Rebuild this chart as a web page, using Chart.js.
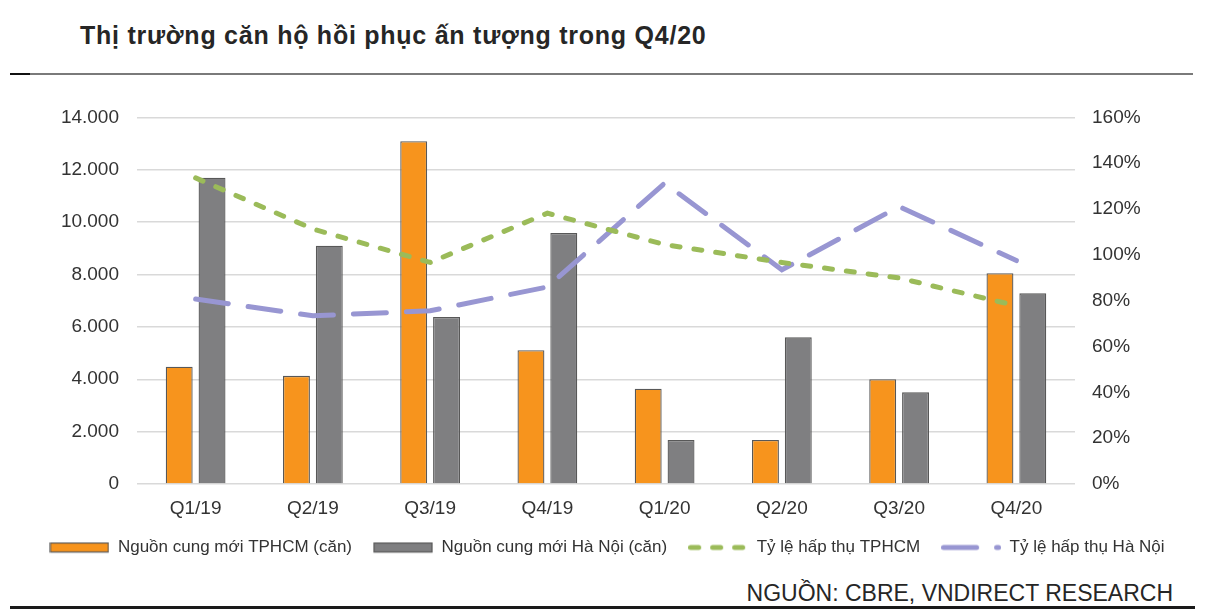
<!DOCTYPE html>
<html>
<head>
<meta charset="utf-8">
<script src="https://cdn.jsdelivr.net/npm/chart.js@4"></script>
<style>
  body { margin: 0; background: #fff; }
  #page { position: relative; width: 1214px; height: 616px; overflow: hidden; font-family: "Liberation Sans", Arial, sans-serif; }
  #title { position: absolute; left: 80px; top: 23px; font-size: 25px; line-height: 25px; font-weight: bold; color: #262626; letter-spacing: 0.75px; white-space: nowrap; }
  #ruleTop { position: absolute; left: 10px; top: 73px; width: 1183px; height: 2px; background: #7a7a7a; }
  #ruleTopMark { position: absolute; left: 10px; top: 73px; width: 20px; height: 2px; background: #111; }
  #source { position: absolute; right: 41px; top: 582px; font-size: 23px; line-height: 23px; color: #262626; white-space: nowrap; }
  #ruleBottom { position: absolute; left: 10px; top: 606px; width: 1185px; height: 3px; background: #1a1a1a; }
  #wrap { position: absolute; left: 0; top: 88px; width: 1214px; height: 478px; }
  canvas { display: block; }
</style>
</head>
<body>
<div id="page">
  <div id="title">Thị trường căn hộ hồi phục ấn tượng trong Q4/20</div>
  <div id="ruleTop"></div>
  <div id="ruleTopMark"></div>
  <div id="wrap"><canvas id="chart" width="1214" height="478"></canvas></div>
  <div id="source">NGUỒN: CBRE, VNDIRECT RESEARCH</div>
  <div id="ruleBottom"></div>
</div>
<script>
// DATA
let categories = ["Q1/19", "Q2/19", "Q3/19", "Q4/19", "Q1/20", "Q2/20", "Q3/20", "Q4/20"];
let hcmSupply = [4480, 4130, 13090, 5110, 3640, 1680, 4000, 8050];
let hnSupply = [11700, 9100, 6380, 9590, 1680, 5600, 3500, 7280];
let hcmAbsorb = [133.6, 111.3, 96.7, 118.2, 104.5, 96.7, 89.9, 77.8];
let hnAbsorb = [80.7, 73.4, 75.6, 86.0, 131.3, 93.5, 121.1, 97.5];
let leftTicks = [0, 2000, 4000, 6000, 8000, 10000, 12000, 14000];
let rightTicks = [0, 20, 40, 60, 80, 100, 120, 140, 160];
let seriesNames = ["Nguồn cung mới TPHCM (căn)", "Nguồn cung mới Hà Nội (căn)", "Tỷ lệ hấp thụ TPHCM", "Tỷ lệ hấp thụ Hà Nội"];

// COLORS
let orange = "#f7941d";
let grey = "#7f7f81";
let barEdge = "#585858";
let green = "#9bbb59";
let purple = "#9896d2";
let greenDash = [8, 14];
let purpleDash = [33, 20];

// number like 14.000
function fmt(v) {
  return String(v).replace(/\B(?=(\d{3})+(?!\d))/g, ".");
}

// legend markers
function boxMarker(fill) {
  let c = document.createElement("canvas");
  c.width = 60; c.height = 12;
  let g = c.getContext("2d");
  g.fillStyle = fill;
  g.fillRect(1, 1.5, 58, 9);
  g.strokeStyle = barEdge;
  g.lineWidth = 1.2;
  g.strokeRect(1, 1.5, 58, 9);
  return c;
}
function lineMarker(color, dash) {
  let c = document.createElement("canvas");
  c.width = 60; c.height = 12;
  let g = c.getContext("2d");
  g.strokeStyle = color;
  g.lineWidth = 5;
  g.lineCap = "round";
  g.setLineDash(dash);
  g.beginPath();
  g.moveTo(2.5, 6);
  g.lineTo(57.5, 6);
  g.stroke();
  return c;
}
let markers = [boxMarker(orange), boxMarker(grey), lineMarker(green, greenDash), lineMarker(purple, purpleDash)];

let ctx = document.getElementById("chart").getContext("2d");
let chart = new Chart(ctx, {
  data: {
    labels: categories,
    datasets: [
      {
        type: "line", label: seriesNames[2], data: hcmAbsorb, yAxisID: "y1",
        borderColor: green, borderWidth: 5, borderDash: greenDash, borderCapStyle: "round",
        pointRadius: 0, tension: 0, fill: false, order: 0
      },
      {
        type: "line", label: seriesNames[3], data: hnAbsorb, yAxisID: "y1",
        borderColor: purple, borderWidth: 5, borderDash: purpleDash, borderCapStyle: "round",
        pointRadius: 0, tension: 0, fill: false, order: 0
      },
      {
        type: "bar", label: seriesNames[0], data: hcmSupply, yAxisID: "y",
        backgroundColor: orange, borderColor: barEdge, borderWidth: 1.3,
        barPercentage: 0.82, categoryPercentage: 0.56, order: 1
      },
      {
        type: "bar", label: seriesNames[1], data: hnSupply, yAxisID: "y",
        backgroundColor: grey, borderColor: barEdge, borderWidth: 1.3,
        barPercentage: 0.82, categoryPercentage: 0.56, order: 1
      }
    ]
  },
  options: {
    responsive: false,
    animation: false,
    layout: { padding: { top: 15, left: 0, right: 0, bottom: 0 } },
    plugins: {
      tooltip: { enabled: false },
      legend: {
        position: "bottom",
        labels: {
          usePointStyle: true,
          pointStyleWidth: 60,
          boxHeight: 12,
          padding: 21,
          color: "#333",
          font: { family: "'Liberation Sans', Arial, sans-serif", size: 17 },
          generateLabels: () => seriesNames.map((name, i) => ({
            text: name,
            pointStyle: markers[i],
            fillStyle: "transparent",
            strokeStyle: "transparent",
            lineWidth: 0,
            hidden: false,
            datasetIndex: [2, 3, 0, 1][i],
            fontColor: "#333"
          }))
        }
      }
    },
    scales: {
      x: {
        grid: { display: false, drawTicks: false },
        border: { display: false },
        ticks: { padding: 13, color: "#333", font: { family: "'Liberation Sans', Arial, sans-serif", size: 19 } },
        afterFit: s => { s.height = 34; }
      },
      y: {
        position: "left",
        min: 0, max: 14000,
        afterBuildTicks: s => { s.ticks = leftTicks.map(v => ({ value: v })); },
        grid: { color: "#d9d9d9", lineWidth: 1.5, drawTicks: false },
        border: { display: false },
        ticks: { padding: 18, color: "#333", font: { family: "'Liberation Sans', Arial, sans-serif", size: 19 }, callback: v => fmt(v) },
        afterFit: s => { s.width = 137; }
      },
      y1: {
        position: "right",
        min: 0, max: 160,
        afterBuildTicks: s => { s.ticks = rightTicks.map(v => ({ value: v })); },
        grid: { display: false, drawTicks: false },
        border: { display: false },
        ticks: { padding: 17, color: "#333", font: { family: "'Liberation Sans', Arial, sans-serif", size: 19 }, callback: v => v + "%" },
        afterFit: s => { s.width = 139; }
      }
    }
  }
});
</script>
</body>
</html>
